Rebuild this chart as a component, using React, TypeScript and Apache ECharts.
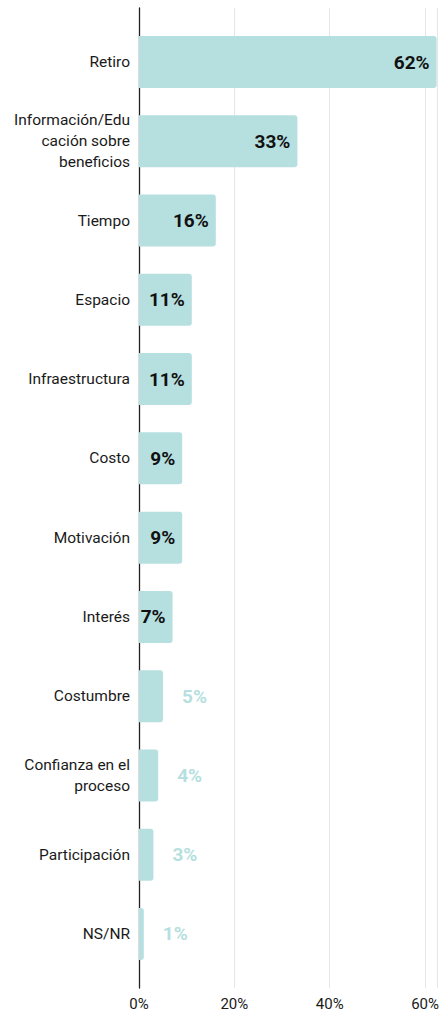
import React, { useEffect, useRef } from "react";
import * as echarts from "echarts";

const categories = [
  "Retiro",
  "Información/Edu\ncación sobre\nbeneficios",
  "Tiempo",
  "Espacio",
  "Infraestructura",
  "Costo",
  "Motivación",
  "Interés",
  "Costumbre",
  "Confianza en el\nproceso",
  "Participación",
  "NS/NR",
];
const values = [62, 33, 16, 11, 11, 9, 9, 7, 5, 4, 3, 1];
const xTicks = [0, 20, 40, 60];

const BAR = "#b6dfe0";
const FONT = "Roboto";

export default function App() {
  const ref = useRef<HTMLDivElement>(null);
  useEffect(() => {
    if (!ref.current) return;
    const chart = echarts.init(ref.current, null, { renderer: "svg" });
    const xMax = 62.5;
    chart.setOption({
      animation: false,
      grid: [
        { left: 139, right: 3, top: 22.4, bottom: 38.4 },
        { left: 139, right: 3, top: 8, bottom: 24 },
      ],
      xAxis: [
        {
          gridIndex: 0,
          type: "value",
          min: 0,
          max: xMax,
          show: false,
        },
        {
          gridIndex: 1,
          type: "value",
          min: 0,
          max: xMax,
          interval: 20,
          axisLine: { show: false },
          axisTick: { show: false },
          splitLine: { show: true, lineStyle: { color: "#e6e6e6", width: 1 } },
          axisLabel: {
            margin: 8,
            fontFamily: FONT,
            fontSize: 15,
            color: "#1a1a1a",
            formatter: (v: number) => (xTicks.includes(v) ? v + "%" : ""),
          },
        },
      ],
      yAxis: [
        {
          gridIndex: 0,
          type: "category",
          data: categories,
          inverse: true,
          axisLine: { show: false },
          axisTick: { show: false },
          axisLabel: {
            margin: 9,
            fontFamily: FONT,
            fontSize: 15.5,
            lineHeight: 21,
            color: "#1a1a1a",
            align: "right",
          },
        },
        {
          gridIndex: 1,
          type: "value",
          min: 0,
          max: 1,
          axisLine: { show: true, lineStyle: { color: "#222", width: 1.3 } },
          axisTick: { show: false },
          axisLabel: { show: false },
          splitLine: { show: false },
        },
      ],
      series: [
        {
          type: "bar",
          xAxisIndex: 0,
          yAxisIndex: 0,
          barWidth: 52,
          data: values.map((v) => ({
            value: v,
            label:
              v >= 7
                ? {
                    show: true,
                    position: "insideRight",
                    distance: 7,
                    color: "#111",
                    fontWeight: "bold",
                    fontSize: 19,
                    fontFamily: FONT,
                    formatter: "{c}%",
                  }
                : {
                    show: true,
                    position: "right",
                    distance: 19,
                    color: BAR,
                    fontWeight: "bold",
                    fontSize: 19,
                    fontFamily: FONT,
                    formatter: "{c}%",
                  },
          })),
          itemStyle: { color: BAR, borderRadius: [0, 3, 3, 0] },
        },
      ],
    });
    return () => chart.dispose();
  }, []);
  return (
    <div
      ref={ref}
      style={{ position: "absolute", left: 0, top: 0, width: 442, height: 1012 }}
    />
  );
}
